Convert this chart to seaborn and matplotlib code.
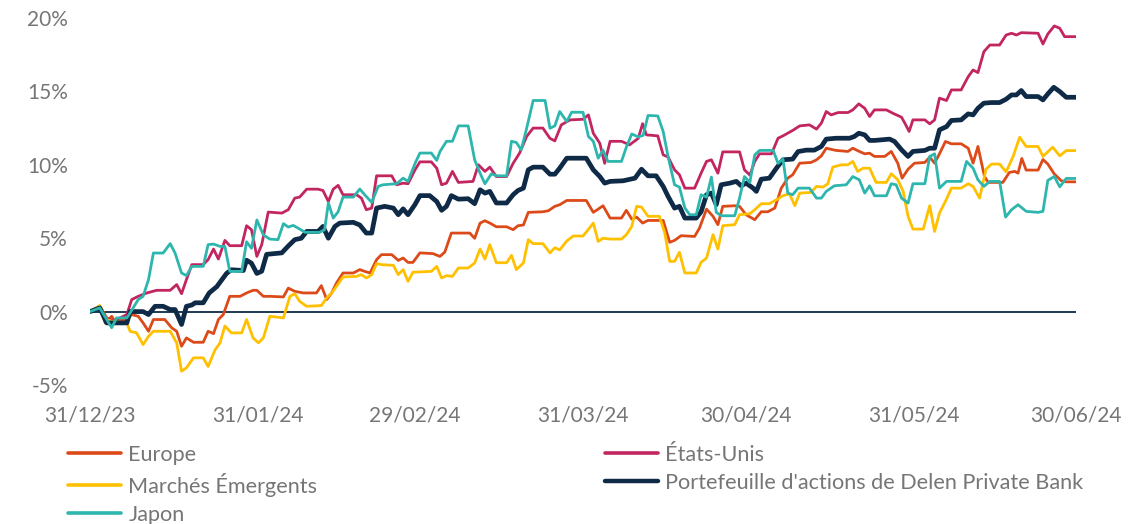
import numpy as np
import pandas as pd
import matplotlib
matplotlib.use("Agg")
import matplotlib.pyplot as plt
from matplotlib.lines import Line2D
import seaborn as sns

# ---------------- data (days after 31/12/2023, cumulative return in %) ----------------
europe_days = [0, 1.8, 2.8, 4, 4.6, 6.8, 7.7, 8.9, 9.8, 10.8, 11.7, 13.8, 15.1, 16, 16.9, 17.8, 19.1, 20.9, 21.8, 22.8,
               23.7, 24.6, 25.8, 27.7, 28.9, 30.1, 30.8, 32, 33.2, 35.7, 36.6, 37.8, 39.4, 41.8, 42.7, 43.7, 44.6, 45.5,
               46.7, 48.6, 49.8, 50.7, 51.7, 52.9, 53.8, 55.7, 56.9, 57.8, 58.7, 59.6, 60.9, 63.3, 64.6, 65.5, 66.7,
               70.1, 71, 72, 72.9, 73.8, 75, 76.9, 78.1, 79, 80, 80.9, 83.6, 84.6, 85.8, 86.7, 88, 91.6, 92.9, 93.8,
               94.7, 96, 98.1, 99, 100, 100.9, 102, 103, 105.8, 107, 107.9, 109.1, 111.6, 112.5, 113.8, 115, 115.9,
               116.8, 119, 119.9, 121.1, 122.7, 123.9, 125.1, 126.4, 127.6, 128.8, 129.7, 131, 133.1, 134.1, 135,
               135.9, 137.7, 139.9, 140.8, 142, 143, 143.9, 144.8, 146.7, 147.9, 149.1, 149.9, 151, 152.2, 154.1,
               155, 155.9, 156.8, 157.9, 159, 160.8, 162.1, 163, 163.9, 165.1, 165.8, 168.5, 169.7, 170.7, 171.3,
               172, 172.8, 175, 175.9, 176.8, 178, 179.3, 180.2, 182]
europe_vals = [0, 0.36, -0.77, -0.32, -0.66, -0.54, -0.2, -0.32, -0.77, -1.34, -0.54, -0.54, -1.11, -1.34, -2.36,
               -1.79, -2.09, -2.09, -1.34, -1.5, -0.54, -0.2, 1.04, 1.04, 1.27, 1.45, 1.45, 1.04, 1.04, 1.0, 1.6,
               1.38, 1.27, 1.27, 1.77, 0.82, 1.27, 1.95, 2.63, 2.63, 2.86, 2.74, 2.63, 3.54, 3.88, 3.88, 3.49, 3.65,
               3.35, 3.35, 4.0, 3.95, 3.76, 4.06, 5.35, 5.35, 4.99, 6.03, 6.19, 6.03, 5.78, 5.78, 5.58, 5.85, 5.9,
               6.76, 6.8, 6.87, 7.17, 7.28, 7.57, 7.57, 6.76, 6.98, 7.21, 6.37, 6.37, 6.9, 6.3, 6.44, 6.03, 6.21,
               6.21, 4.72, 4.85, 5.17, 5.12, 5.69, 6.98, 6.49, 5.92, 7.17, 7.21, 7.17, 6.6, 6.26, 6.8, 6.8, 7.05,
               8.41, 9.09, 9.32, 10.11, 10.16, 10.34, 10.61, 11.13, 10.98, 10.91, 11.13, 10.91, 10.75, 10.79, 10.57,
               10.57, 10.91, 10.11, 9.09, 9.7, 10.11, 10.16, 10.52, 10.11, 10.75, 11.59, 11.43, 11.43, 11.13, 10.11,
               11.25, 9.21, 8.8, 8.8, 9.48, 9.55, 9.43, 10.43, 9.64, 9.64, 10.36, 10.05, 9.37, 8.91, 8.84, 8.84]

us_days = [0, 1.8, 3.1, 4.3, 6.8, 7.7, 8.9, 10.5, 12.3, 14.8, 16, 16.9, 17.8, 18.8, 20.9, 21.8, 22.8, 23.7, 24.9,
           25.8, 28, 28.9, 29.8, 30.8, 31.7, 32.9, 35.4, 36.6, 37.8, 38.7, 40, 42.1, 43, 44, 44.9, 45.8, 46.7, 49.2,
           50.1, 51, 52, 52.9, 55.7, 56.6, 57.8, 58.7, 60, 60.9, 63, 64, 64.9, 65.8, 66.9, 68, 70.7, 71.7, 72.9,
           73.8, 75, 76.9, 78.1, 79.3, 80.6, 81.8, 83.6, 84.9, 85.8, 87, 88.6, 91, 92, 92.9, 94.1, 95, 96, 98.1,
           99.6, 101.2, 102, 102.7, 104.8, 105.8, 106.7, 107.9, 108.8, 109.8, 111.6, 112.8, 113.8, 114.7, 115.9,
           116.8, 119.9, 120.8, 121.8, 122.7, 123.6, 125.8, 127, 127.9, 129.7, 131, 132.8, 134.1, 135, 135.9,
           136.8, 138.1, 139.9, 140.8, 141.9, 143, 143.9, 144.8, 147, 148.2, 149.8, 150.4, 151.2, 151.9, 154.1,
           155, 155.9, 156.8, 158.1, 159, 160.8, 162.1, 163, 163.9, 165, 166.1, 167.9, 169.1, 170.1, 171, 171.9,
           175, 175.9, 176.8, 178, 179, 179.9, 182]
us_vals = [0, 0.36, -0.43, -0.66, -0.2, 0.82, 1.04, 1.27, 1.45, 1.45, 1.84, 1.22, 2.18, 3.2, 3.2, 3.54, 4.26, 3.58,
           4.85, 4.49, 4.49, 5.85, 5.58, 3.76, 4.56, 6.78, 6.71, 6.94, 7.73, 7.8, 8.34, 8.34, 8.25, 7.5, 8.34, 8.6,
           7.96, 7.96, 7.73, 6.94, 7.05, 9.25, 9.25, 8.64, 8.75, 8.71, 9.66, 10.2, 10.2, 9.77, 8.64, 8.75, 9.55, 8.8,
           8.87, 10.0, 9.55, 9.84, 9.2, 9.2, 10.1, 10.8, 11.93, 12.5, 12.5, 11.8, 11.63, 12.72, 13.06, 13.1, 13.4,
           12.15, 11.47, 10.1, 11.6, 11.6, 11.36, 11.8, 12.8, 12.04, 11.97, 10.68, 10.53, 9.66, 9.32, 8.41, 8.41,
           9.43, 10.23, 10.34, 9.43, 10.88, 10.88, 9.66, 9.3, 10.23, 10.75, 10.75, 11.81, 11.97, 12.34, 12.65,
           12.72, 12.43, 12.84, 13.63, 13.4, 13.56, 13.56, 13.74, 14.15, 13.85, 13.29, 13.74, 13.74, 13.51, 13.24,
           12.84, 12.27, 13.06, 13.06, 12.79, 13.06, 14.54, 14.38, 15.1, 15.1, 16.0, 16.46, 16.28, 17.71, 18.16,
           18.16, 18.84, 18.96, 18.84, 19.0, 18.96, 18.23, 18.91, 19.46, 19.3, 18.73, 18.73]

em_days = [0, 1.8, 3.1, 4, 6.8, 7.4, 8.6, 9.8, 10.8, 11.7, 14.8, 16, 16.9, 17.8, 19.1, 20.9, 21.8, 23.1, 24, 24.9,
           26.1, 28, 28.9, 30.1, 31.1, 32, 33.2, 35.7, 36.9, 37.8, 38.7, 40, 42.7, 43.7, 44.6, 45.5, 46.7, 49.2, 50.1,
           51, 52, 52.9, 53.8, 56, 56.9, 57.8, 58.7, 59.6, 63, 64, 64.9, 65.8, 66.9, 68, 69.8, 71, 72, 72.9, 73.8, 75,
           76.9, 77.8, 78.7, 80, 80.9, 81.8, 83.6, 84.9, 85.8, 86.7, 88, 89.2, 91, 92, 92.9, 93.8, 94.7, 96, 98.1, 99,
           100, 100.9, 101.8, 103, 105.1, 106.1, 107, 107.9, 108.8, 109.8, 111.9, 112.8, 113.8, 115, 115.9, 116.8,
           119, 119.9, 121.8, 122.7, 123.9, 125.4, 126.7, 127.9, 129.1, 130.1, 131, 133.1, 134.1, 135.3, 136.2,
           137.1, 138.7, 139.9, 140.8, 141.7, 142.7, 143.9, 145.1, 147, 147.9, 149.1, 150.1, 151, 151.9, 153.8,
           155, 155.9, 156.8, 158.1, 159, 160.8, 162.1, 163, 164.2, 165.4, 166.4, 167.9, 169.1, 170.4, 171.6, 172.8,
           175, 175.9, 177.7, 179, 180.2, 182]
em_vals = [0, 0.41, -0.54, -0.66, -0.77, -1.34, -1.45, -2.25, -1.68, -1.34, -1.34, -2.13, -4.06, -3.83, -3.15,
           -3.15, -3.74, -2.6, -2.13, -0.98, -1.45, -1.45, -0.54, -1.79, -2.13, -1.79, -0.32, -0.43, 1.04, 1.22, 0.7,
           0.36, 0.41, 0.93, 1.27, 1.72, 2.36, 2.4, 2.52, 2.29, 2.52, 3.27, 3.2, 3.15, 2.52, 2.86, 2.06, 2.68, 2.74,
           3.08, 2.29, 2.45, 2.4, 2.97, 2.97, 3.31, 4.26, 3.58, 4.56, 3.33, 3.33, 3.83, 2.86, 3.31, 4.9, 4.63, 4.63,
           4.0, 4.35, 4.2, 4.81, 5.15, 5.15, 5.6, 6.03, 4.78, 5.0, 4.94, 4.94, 5.24, 5.8, 7.17, 7.12, 6.49, 6.49,
           5.35, 3.42, 3.42, 4.04, 2.63, 2.63, 3.36, 3.65, 5.24, 4.26, 5.85, 5.92, 6.6, 6.67, 6.94, 7.35, 7.35, 7.62,
           7.89, 8.03, 7.21, 8.07, 8.12, 8.53, 8.48, 8.71, 9.84, 10.0, 10.0, 10.23, 9.55, 9.77, 9.77, 8.8, 8.8, 9.39,
           8.98, 8.19, 6.49, 5.62, 5.62, 7.21, 5.46, 6.71, 7.66, 8.41, 8.41, 8.71, 8.53, 7.73, 9.7, 10.05, 10.05,
           9.52, 10.57, 11.88, 11.25, 11.25, 10.57, 11.2, 10.61, 10.97, 10.97]

delen_days = [0, 1.8, 3.1, 6.8, 7.4, 9.8, 10.8, 12, 13.5, 14.8, 15.7, 16.9, 17.8, 18.8, 19.4, 20.9, 22, 23.4, 25.2,
              26.1, 28.3, 28.9, 29.8, 30.8, 31.7, 32.6, 35.4, 36.6, 37.8, 39, 40, 42.1, 43, 44, 45.2, 46.1, 48.6,
              49.8, 51, 52, 52.9, 54.4, 56, 56.9, 57.8, 58.7, 60, 60.9, 62.7, 64, 64.9, 65.8, 66.7, 68, 69.8, 71, 72,
              72.9, 73.8, 75, 76.9, 78.1, 79, 80, 80.9, 81.8, 83.6, 84.9, 85.8, 86.7, 88, 91.6, 92.9, 94.1, 95, 96,
              98.4, 100.6, 101.8, 103, 104.5, 105.8, 106.7, 107.9, 108.8, 109.8, 111.9, 112.8, 113.8, 114.7, 115.6,
              116.5, 118.1, 119.3, 120.2, 121.1, 122.4, 123, 123.9, 125.4, 126.7, 127.9, 129.7, 130.7, 132.2, 133.7,
              135, 135.9, 137.7, 140.2, 141.1, 141.9, 143, 143.9, 144.8, 147.6, 148.5, 149.8, 151, 151.9, 154.1, 155,
              155.9, 156.8, 158.1, 159, 160.8, 162.1, 163, 163.9, 165, 166.4, 167.9, 169.1, 170.1, 171, 171.9,
              172.8, 175, 175.9, 176.8, 177.9, 179, 180.2, 182]
delen_vals = [0, 0.25, -0.77, -0.77, 0, 0, -0.2, 0.36, 0.36, 0.14, 0.14, -0.88, 0.36, 0.45, 0.6, 0.6, 1.27, 1.7,
              2.6, 2.85, 2.8, 3.5, 3.3, 2.6, 2.75, 3.9, 4.0, 4.47, 4.9, 5.0, 5.46, 5.46, 5.8, 5.0, 5.8, 6.03, 6.08,
              5.9, 5.35, 5.35, 7.05, 7.17, 7.05, 6.6, 7.0, 6.6, 7.3, 7.9, 7.9, 7.5, 6.9, 7.17, 7.9, 7.66, 7.69, 7.35,
              8.3, 8.07, 8.19, 7.4, 7.4, 7.96, 8.25, 8.41, 9.66, 9.84, 9.84, 9.36, 9.36, 9.77, 10.45, 10.45, 9.66,
              9.2, 8.75, 8.87, 8.91, 9.09, 9.7, 9.25, 9.25, 8.53, 7.85, 7.05, 7.17, 6.37, 6.37, 6.8, 7.96, 8.07,
              7.28, 8.64, 8.75, 8.87, 8.57, 8.75, 8.41, 8.19, 9.02, 9.09, 9.77, 10.34, 10.39, 10.9, 11.0, 11.0,
              11.25, 11.75, 11.81, 11.81, 11.93, 12.15, 12.04, 11.66, 11.66, 11.75, 11.59, 11.02, 10.57, 10.91,
              10.98, 11.13, 11.13, 12.38, 12.6, 13.02, 13.06, 13.47, 13.4, 13.85, 14.2, 14.24, 14.24, 14.47, 14.76,
              14.76, 15.06, 14.65, 14.65, 14.42, 14.83, 15.28, 14.99, 14.6, 14.6]

japan_days = [0, 1.8, 4, 4.9, 6.8, 7.4, 8.9, 9.8, 10.8, 11.7, 13.5, 14.8, 15.7, 16.9, 17.8, 18.8, 20.9, 21.8, 22.8,
              24, 24.9, 25.8, 28, 28.9, 29.8, 30.8, 32, 33.2, 34.7, 35.7, 36.6, 37.5, 38.4, 39.7, 42.4, 43.3, 44, 44.9,
              45.8, 46.7, 48.6, 49.8, 50.7, 52, 53.2, 54.1, 56.6, 57.8, 58.7, 60, 60.9, 63, 64, 64.6, 65.8, 66.9, 68,
              69.8, 71, 72, 72.9, 74.1, 75, 76.9, 77.8, 78.7, 79.6, 80.6, 81.8, 84, 84.9, 85.8, 86.7, 88, 88.9, 91,
              92, 92.9, 93.8, 94.7, 95.6, 98.1, 99, 100, 101.2, 102.1, 103, 104.8, 105.8, 106.7, 107.9, 108.8, 109.8,
              110.7, 111.9, 112.8, 113.8, 114.7, 115.6, 116.5, 119, 119.9, 120.8, 121.8, 122.7, 123.6, 126.1, 127,
              127.9, 128.8, 129.7, 130.7, 132.8, 134.1, 135, 135.9, 137.4, 139.6, 140.8, 142, 143, 143.9, 144.8,
              147, 147.9, 148.8, 149.8, 151, 151.9, 154.1, 155, 155.9, 156.8, 158.1, 160.8, 161.8, 163, 163.9, 165,
              166.1, 167.9, 169, 170.1, 171.3, 172.8, 175, 175.9, 176.8, 178, 179, 180.2, 182]
japan_vals = [0, 0.25, -1.1, -0.43, -0.43, -0.09, 0.82, 1.04, 2.18, 3.99, 3.99, 4.63, 3.99, 2.63, 2.45, 3.08, 3.08,
              4.56, 4.6, 4.44, 4.44, 2.74, 2.74, 4.76, 4.31, 6.24, 5.22, 4.94, 4.9, 5.99, 5.76, 5.87, 5.69, 5.4, 5.4,
              5.58, 7.4, 6.37, 6.8, 7.8, 7.8, 8.35, 7.96, 7.44, 8.53, 8.64, 8.71, 9.09, 8.87, 10.1, 10.8, 10.8, 10.3,
              10.9, 11.6, 11.6, 12.65, 12.65, 10.34, 9.43, 8.71, 9.39, 9.25, 9.25, 11.6, 11.52, 11.02, 12.49, 14.38,
              14.38, 12.49, 12.65, 13.63, 12.95, 13.58, 13.58, 11.93, 11.6, 10.45, 11.0, 10.23, 10.23, 11.2, 12.1,
              11.9, 12.0, 13.36, 13.33, 12.27, 10.57, 8.64, 8.48, 7.06, 6.6, 6.6, 7.96, 7.8, 9.16, 6.76, 6.53, 6.53,
              7.73, 9.2, 8.8, 10.68, 10.98, 10.98, 10.1, 10.4, 8.07, 7.96, 8.41, 8.41, 7.73, 7.73, 8.19, 8.57, 8.64,
              9.2, 8.98, 8.07, 8.57, 7.89, 7.89, 8.71, 8.64, 7.73, 7.39, 8.71, 8.71, 10.57, 10.75, 8.41, 8.87, 8.87,
              10.23, 9.77, 8.98, 8.53, 8.87, 8.87, 6.44, 6.94, 7.28, 6.83, 6.76, 6.83, 8.94, 9.2, 8.5, 9.07, 9.07]

series_names = ["Europe", "États-Unis", "Marchés Émergents",
                "Portefeuille d'actions de Delen Private Bank", "Japon"]
tick_dates = ["2023-12-31", "2024-01-31", "2024-02-29", "2024-03-31", "2024-04-30", "2024-05-31", "2024-06-30"]
y_ticks = [-5, 0, 5, 10, 15, 20]

# ---------------- style ----------------
sns.set_style("white")
plt.rcParams["font.family"] = ["Lato", "DejaVu Sans"]
TXT = "#767676"
colors = {"Europe": "#DC4A1A", "États-Unis": "#C2255F", "Marchés Émergents": "#FFC000",
          "Portefeuille d'actions de Delen Private Bank": "#0E2A47", "Japon": "#2DB6AE"}
widths = {"Europe": 2.0, "États-Unis": 2.0, "Marchés Émergents": 2.0,
          "Portefeuille d'actions de Delen Private Bank": 3.4, "Japon": 2.0}

start = pd.Timestamp("2023-12-31")
def to_dates(days):
    return start + pd.to_timedelta(np.array(days, dtype=float) * 24, unit="h")

data = {
    "Europe": (europe_days, europe_vals),
    "États-Unis": (us_days, us_vals),
    "Marchés Émergents": (em_days, em_vals),
    "Portefeuille d'actions de Delen Private Bank": (delen_days, delen_vals),
    "Japon": (japan_days, japan_vals),
}

W, H = 1145, 524
fig = plt.figure(figsize=(W / 100, H / 100), dpi=100)
ax = fig.add_axes([90 / W, 1 - 385 / H, 986 / W, 367 / H])

ax.axhline(0, color="#0E2A47", lw=1.3, zorder=1)
for name in series_names:
    d, v = data[name]
    sns.lineplot(x=to_dates(d), y=v, ax=ax, color=colors[name], lw=widths[name],
                 estimator=None, sort=False, legend=False, zorder=3,
                 solid_joinstyle="round")

ax.set_xlim(pd.Timestamp(tick_dates[0]), pd.Timestamp(tick_dates[-1]))
ax.set_ylim(-5, 20)
ax.set_yticks(y_ticks)
ax.set_yticklabels([f"{t}%" for t in y_ticks])
ax.set_xticks(pd.to_datetime(tick_dates))
ax.set_xticklabels([pd.Timestamp(t).strftime("%d/%m/%y") for t in tick_dates])
ax.tick_params(axis="both", length=0, labelsize=15, labelcolor=TXT)
ax.tick_params(axis="x", pad=15)
ax.tick_params(axis="y", pad=16)
for s in ax.spines.values():
    s.set_visible(False)
ax.grid(False)
ax.set_xlabel("")
ax.set_ylabel("")

def handle(name):
    return Line2D([], [], color=colors[name], lw=2.6 if widths[name] < 3 else 3.2)

leg_kw = dict(loc="upper left", frameon=False, fontsize=15.6, labelcolor=TXT, handlelength=2.45,
              handletextpad=0.34, labelspacing=0.36, borderpad=0, borderaxespad=0)
col1 = ["Europe", "Marchés Émergents", "Japon"]
col2 = ["États-Unis", "Portefeuille d'actions de Delen Private Bank"]
fig.legend(handles=[handle(n) for n in col1], labels=col1,
           bbox_to_anchor=(68 / W, 1 - 445 / H), **leg_kw)
fig.legend(handles=[handle(n) for n in col2], labels=col2,
           bbox_to_anchor=(605 / W, 1 - 445 / H), **leg_kw)

fig.savefig("out.png", dpi=100)
